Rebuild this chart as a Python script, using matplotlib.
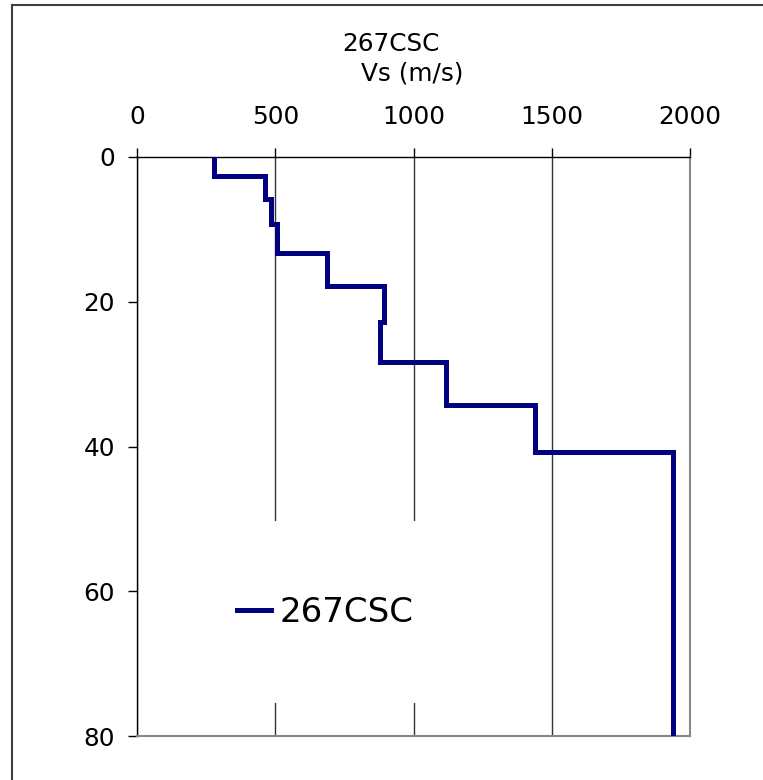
import numpy as np
import matplotlib
matplotlib.use("Agg")
import matplotlib.pyplot as plt
from matplotlib.lines import Line2D

# Data: layer boundaries (depth, m) and shear-wave velocity per layer (m/s)
depth_bounds = [0, 2.6, 5.8, 9.3, 13.3, 17.8, 22.8, 28.3, 34.3, 40.7, 80]
vs_layers = [280, 463, 485, 505, 686, 895, 880, 1119, 1441, 1940]
series_name = "267CSC"
x_ticks = [0, 500, 1000, 1500, 2000]
y_ticks = [0, 20, 40, 60, 80]

plt.rcParams['font.family'] = ['DejaVu Sans']

fig = plt.figure(figsize=(7.63, 7.80), dpi=100)
ax = fig.add_axes([137/763, 44/780, 553/763, 579/780])

xs = np.repeat(vs_layers, 2)
ys = np.column_stack([depth_bounds[:-1], depth_bounds[1:]]).ravel()
ax.plot(xs, ys, color='#000080', lw=3.6, solid_joinstyle='miter',
        label=series_name, zorder=3)

ax.set_xlim(0, 2000)
ax.set_ylim(80, 0)
ax.set_xticks(x_ticks)
ax.set_yticks(y_ticks)
ax.xaxis.tick_top()
ax.tick_params(axis='x', which='both', top=True, bottom=False, length=9*0.72,
               width=1, pad=14, labelsize=17.8, direction='out')
ax.tick_params(axis='y', length=9*0.72, width=1, pad=9.5, labelsize=17.8,
               direction='out')

ax.xaxis.grid(True, color='#333333', lw=1.0, zorder=0)
ax.yaxis.grid(False)
ax.set_axisbelow(True)

ax.spines['left'].set_color('black')
ax.spines['top'].set_color('black')
ax.spines['left'].set_linewidth(1.0)
ax.spines['top'].set_linewidth(1.0)
ax.spines['right'].set_color('#888888')
ax.spines['bottom'].set_color('#888888')
ax.spines['right'].set_linewidth(1.5)
ax.spines['bottom'].set_linewidth(1.5)

leg = ax.legend(loc='center', bbox_to_anchor=(0.34, 0.214), fontsize=24.5,
                frameon=True, facecolor='white', edgecolor='white',
                framealpha=1.0, borderpad=2.2, handlelength=1.0,
                handletextpad=0.25, fancybox=False)
leg.get_frame().set_linewidth(0)
leg.set_zorder(5)

fig.text(391/763, 1 - 44/780, series_name, ha='center', va='center',
         fontsize=17.8)
fig.text(412/763, 1 - 73/780, "Vs (m/s)", ha='center', va='center',
         fontsize=17.8)

# figure border (left and top edges)
fig.add_artist(Line2D([11.5/763, 11.5/763], [0, 1 - 5/780],
                      transform=fig.transFigure, color='#404040', lw=1.5))
fig.add_artist(Line2D([11.5/763, 1], [1 - 5/780, 1 - 5/780],
                      transform=fig.transFigure, color='#404040', lw=1.5))

fig.savefig("out.png", dpi=100)
